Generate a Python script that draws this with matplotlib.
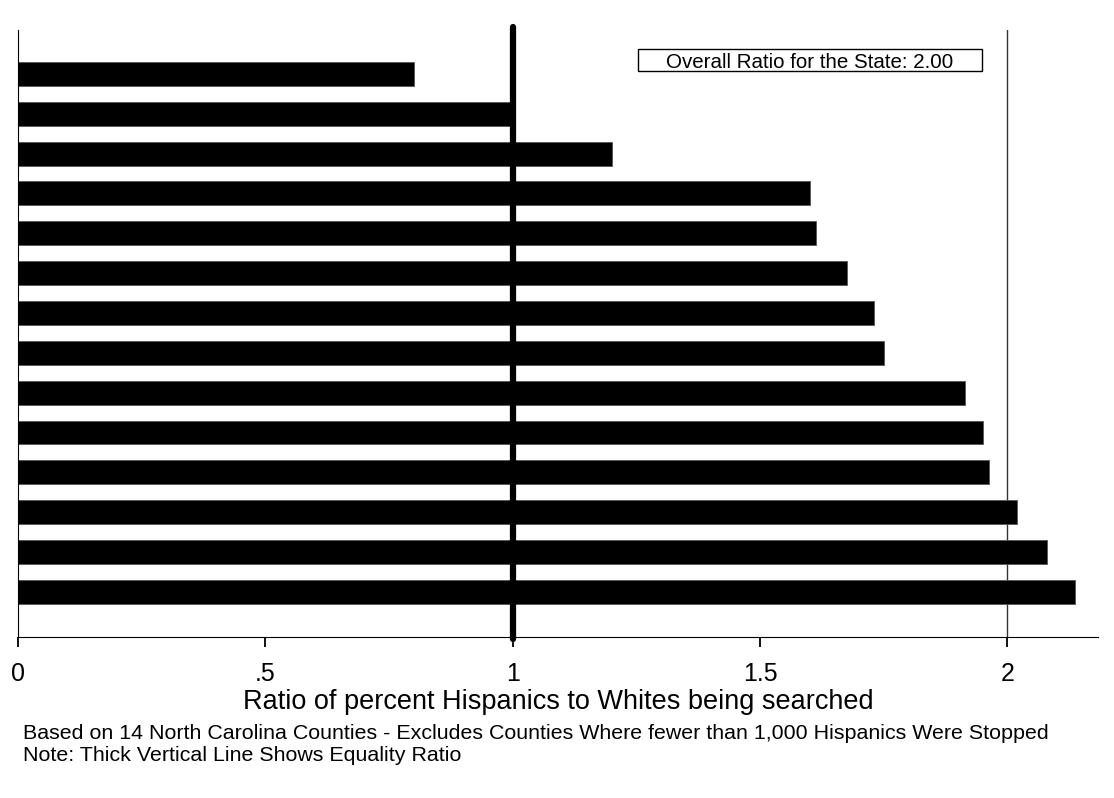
import numpy as np
import matplotlib.pyplot as plt
from matplotlib.patches import Rectangle

plt.rcParams['font.family'] = ['Liberation Sans', 'DejaVu Sans']

# ratio of percent Hispanics to Whites searched, 14 counties (top to bottom)
ratios = [0.80, 1.00, 1.20, 1.60, 1.613, 1.675, 1.731, 1.751,
          1.914, 1.951, 1.962, 2.020, 2.079, 2.136]
state_ratio = 2.00
equality = 1.0
tick_vals = [0, 0.5, 1, 1.5, 2]
tick_labels = ['0', '.5', '1', '1.5', '2']

fig = plt.figure(figsize=(11.14, 7.98), dpi=100)
ax = fig.add_axes([0.0162, 0.2018, 0.9694, 0.7606])

pos = np.arange(1, len(ratios) + 1)
ax.barh(pos, ratios, height=0.6, color='black', edgecolor='#555555', linewidth=0.6, zorder=2)

ax.axvline(state_ratio, color='#333333', linewidth=1.0, zorder=1)
ax.plot([equality, equality], [15.18, -0.17], color='black', linewidth=4.5,
        solid_capstyle='round', clip_on=False, zorder=3)

ax.set_xlim(0, 2.183)
ax.set_ylim(15.13, -0.10)
ax.set_yticks([])
ax.set_xticks(tick_vals)
ax.set_xticklabels(tick_labels, fontsize=18)
ax.tick_params(axis='x', direction='out', length=7.2, width=1.3, color='black', pad=10.8)

ax.spines['top'].set_visible(False)
ax.spines['right'].set_visible(False)
ax.spines['left'].set_linewidth(0.8)
ax.spines['bottom'].set_linewidth(0.8)

ax.set_xlabel('Ratio of percent Hispanics to Whites being searched', fontsize=19.5, labelpad=2)

# state ratio box
ax.add_patch(Rectangle((1.253, 0.377), 0.695, 0.552, facecolor='white',
                       edgecolor='black', linewidth=1.0, zorder=4))
ax.text(1.6, 0.854, 'Overall Ratio for the State: 2.00', fontsize=14.8,
        ha='center', va='baseline', zorder=5)

fig.text(0.0205, 0.0739, 'Based on 14 North Carolina Counties - Excludes Counties Where fewer than 1,000 Hispanics Were Stopped',
         fontsize=15.4, ha='left', va='baseline')
fig.text(0.0205, 0.0464, 'Note: Thick Vertical Line Shows Equality Ratio',
         fontsize=15.4, ha='left', va='baseline')

fig.savefig('out.png', dpi=100, facecolor='white')
